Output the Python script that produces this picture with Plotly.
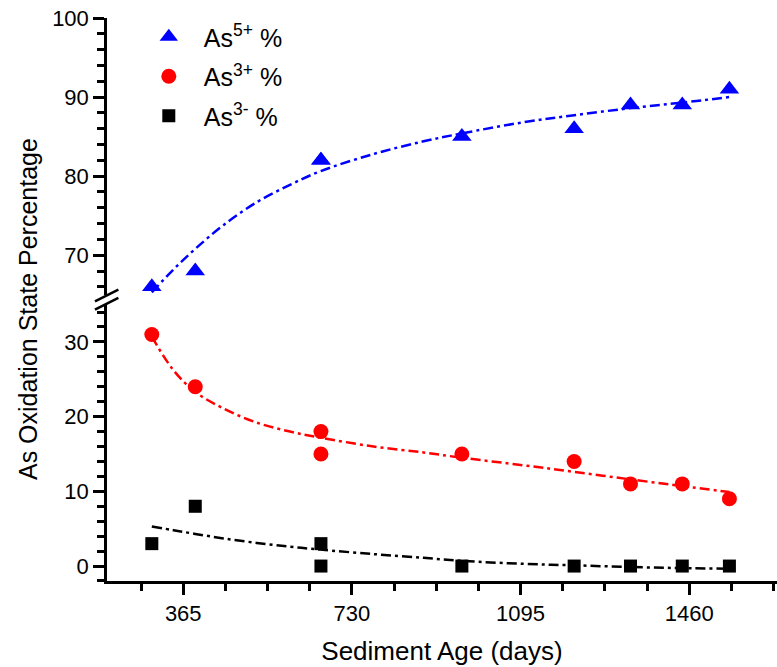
import plotly.graph_objects as go

# ---- data ----
days = [297, 391, 663, 663, 968, 1211, 1333, 1445, 1547]
as5_pct = [66, 68, 82, 82, 85, 86, 89, 89, 91]
as3p_pct = [31, 24, 18, 15, 15, 14, 11, 11, 9]
as3m_pct = [3, 8, 0, 3, 0, 0, 0, 0, 0]

fit_days = [297, 344, 391, 452, 524, 596, 661, 777, 885, 968, 1100, 1211, 1333, 1445, 1547]
fit_as5 = [65.3, 68.2, 70.8, 73.8, 76.7, 78.9, 80.6, 82.8, 84.4, 85.4, 86.8, 87.7, 88.6, 89.3, 90.0]
fit_as3p = [30.7, 26.2, 23.3, 21.1, 19.2, 18.0, 17.2, 16.0, 15.2, 14.5, 13.5, 12.6, 11.6, 10.7, 9.9]
fit_as3m = [5.3, 4.8, 4.3, 3.7, 3.1, 2.6, 2.2, 1.6, 1.1, 0.7, 0.3, 0.1, -0.13, -0.27, -0.35]

x_ticks = [365, 730, 1095, 1460]

FONT = "Liberation Sans, Arial, sans-serif"
BLUE = "#0000FF"
RED = "#FF0000"
BLACK = "#000000"
DASH = "10px,4px,3px,4px"

fig = go.Figure()

# fitted trend lines
fig.add_trace(go.Scatter(x=fit_days, y=fit_as5, mode="lines", yaxis="y2",
                         line=dict(color=BLUE, width=2.5, dash=DASH, shape="spline"),
                         showlegend=False, hoverinfo="skip"))
fig.add_trace(go.Scatter(x=fit_days, y=fit_as3p, mode="lines", yaxis="y",
                         line=dict(color=RED, width=2.5, dash=DASH, shape="spline"),
                         showlegend=False, hoverinfo="skip"))
fig.add_trace(go.Scatter(x=fit_days, y=fit_as3m, mode="lines", yaxis="y",
                         line=dict(color=BLACK, width=2.5, dash=DASH, shape="spline"),
                         showlegend=False, hoverinfo="skip"))

# data points
fig.add_trace(go.Scatter(x=days, y=as5_pct, mode="markers", yaxis="y2",
                         name="As<sup>5+</sup> %", legendgroup="a",
                         marker=dict(symbol="triangle-up", size=17, color=BLUE)))
fig.add_trace(go.Scatter(x=days, y=as3p_pct, mode="markers", yaxis="y",
                         name="As<sup>3+</sup> %", legendgroup="b",
                         marker=dict(symbol="circle", size=15, color=RED)))
fig.add_trace(go.Scatter(x=days, y=as3m_pct, mode="markers", yaxis="y",
                         name="As<sup>3-</sup> %", legendgroup="c",
                         marker=dict(symbol="square", size=13, color=BLACK)))

axis_common = dict(showline=True, linecolor=BLACK, linewidth=2.5, ticks="outside",
                   tickcolor=BLACK, tickwidth=2.5, ticklen=11, showgrid=False,
                   zeroline=False, tickfont=dict(family=FONT, size=22, color=BLACK))

fig.update_layout(
    width=777, height=667,
    margin=dict(l=107, r=0, t=18, b=86),
    plot_bgcolor="white", paper_bgcolor="white",
    font=dict(family=FONT, color=BLACK),
    xaxis=dict(range=[200, 1650], tickmode="linear", tick0=0, dtick=365,
               anchor="y",
               minor=dict(dtick=91.25, tick0=0, ticks="outside", ticklen=7,
                          tickwidth=2.5, tickcolor=BLACK),
               title=dict(text="Sediment Age (days)", font=dict(family=FONT, size=26),
                          standoff=17),
               **axis_common),
    yaxis=dict(domain=[0, 0.491], range=[-2, 35], tickmode="linear", tick0=0, dtick=10,
               minor=dict(dtick=2, tick0=0, ticks="outside", ticklen=7,
                          tickwidth=2.5, tickcolor=BLACK),
               **axis_common),
    yaxis2=dict(domain=[0.5085, 1], range=[65, 100], tickmode="linear", tick0=0, dtick=10,
                anchor="x",
                minor=dict(dtick=2, tick0=0, ticks="outside", ticklen=7,
                           tickwidth=2.5, tickcolor=BLACK),
                **axis_common),
    legend=dict(x=0.04, y=1.007, xanchor="left", yanchor="top",
                font=dict(family=FONT, size=25, color=BLACK),
                bgcolor="rgba(0,0,0,0)", itemwidth=60, tracegroupgap=4),
    annotations=[dict(text="As Oxidation State Percentage", xref="paper", yref="paper",
                      x=-0.118, y=0.483, textangle=-90, showarrow=False,
                      font=dict(family=FONT, size=25, color=BLACK),
                      xanchor="center", yanchor="middle")],
    shapes=[
        dict(type="line", xref="paper", yref="paper", x0=-0.018, x1=0.017,
             y0=0.4965, y1=0.5175, line=dict(color=BLACK, width=2.5)),
        dict(type="line", xref="paper", yref="paper", x0=-0.018, x1=0.017,
             y0=0.4820, y1=0.5030, line=dict(color=BLACK, width=2.5)),
    ],
)

fig.write_html("out.html")
